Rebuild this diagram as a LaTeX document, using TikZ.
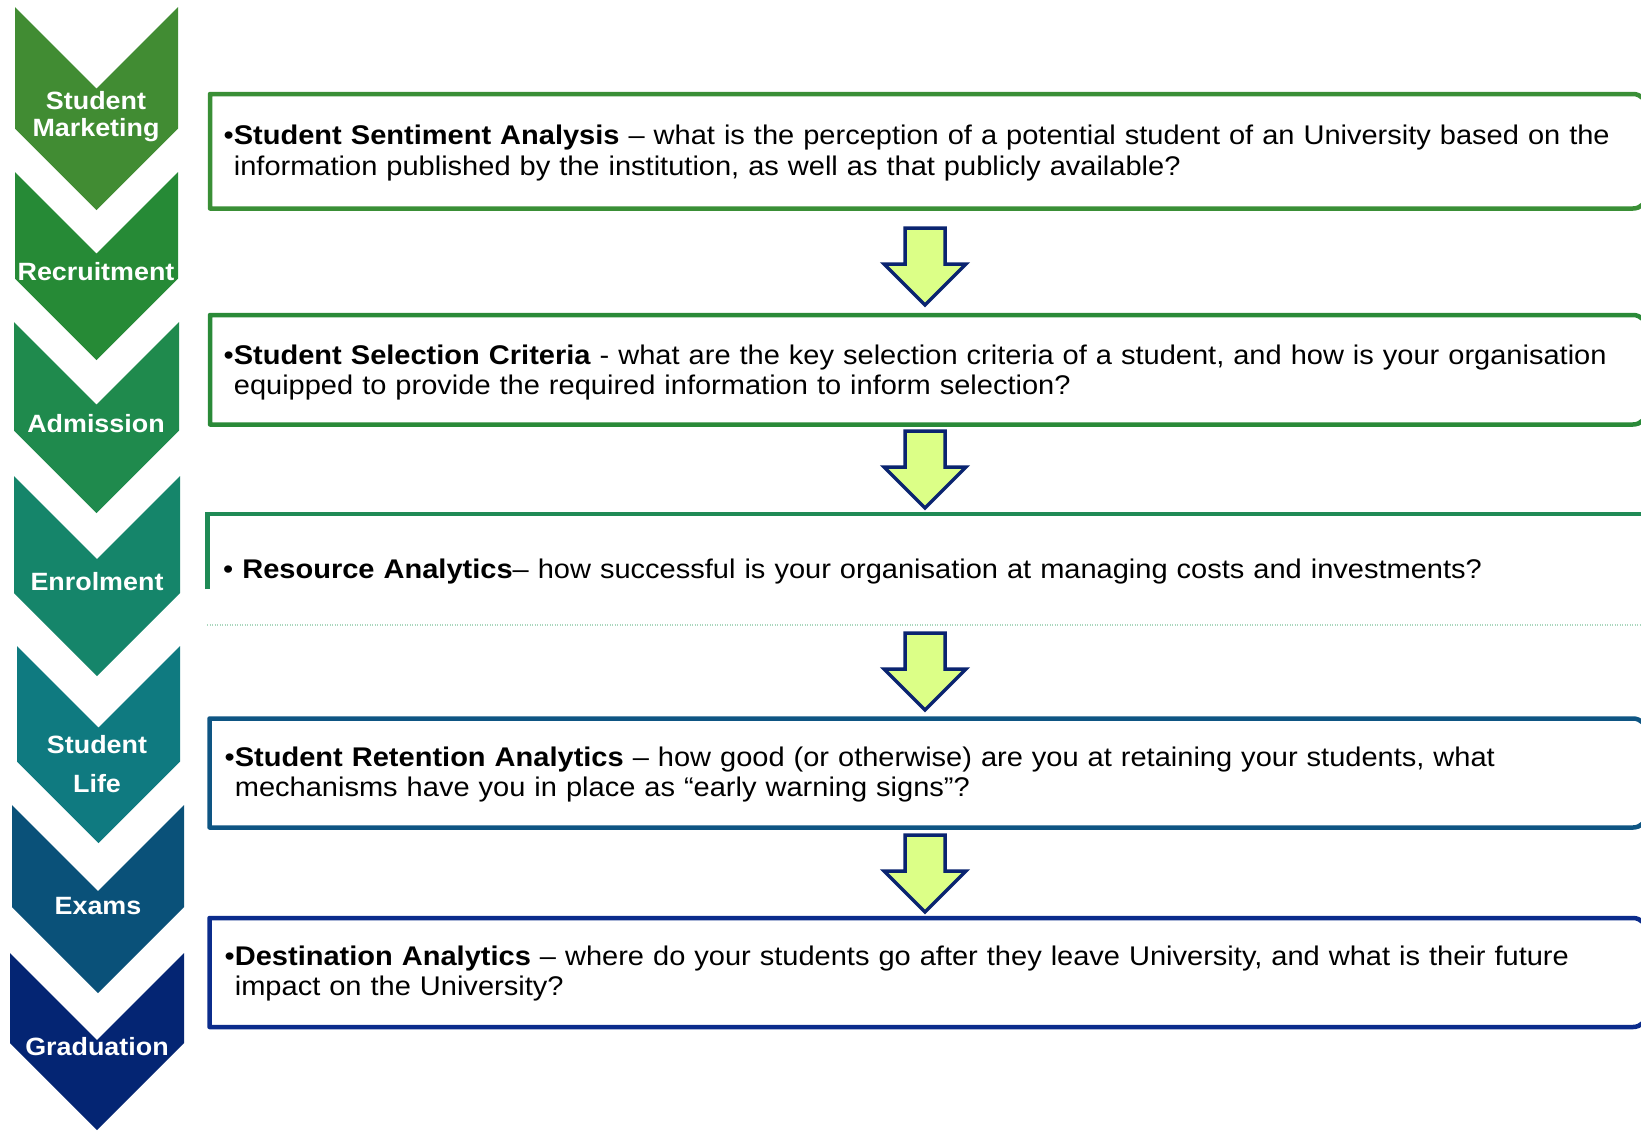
\documentclass[tikz,border=0pt]{standalone}
\usepackage{fontspec}
\setmainfont{Liberation Sans}[FakeStretch=1.075]

% stage colours, from green to navy
\definecolor{stageA}{RGB}{65,140,51}
\definecolor{stageB}{RGB}{38,138,54}
\definecolor{stageC}{RGB}{31,138,77}
\definecolor{stageD}{RGB}{21,133,106}
\definecolor{stageE}{RGB}{15,122,128}
\definecolor{stageF}{RGB}{10,81,121}
\definecolor{stageG}{RGB}{4,37,115}
% box borders
\definecolor{frameA}{RGB}{58,143,54}
\definecolor{frameB}{RGB}{42,138,56}
\definecolor{frameC}{RGB}{31,138,85}
\definecolor{frameD}{RGB}{14,85,131}
\definecolor{frameE}{RGB}{11,44,140}
\definecolor{dotgreen}{RGB}{170,215,190}
% block arrows
\definecolor{arrowline}{RGB}{10,36,112}
\definecolor{arrowfill}{RGB}{220,255,135}

% chevron: left x, right x, top y, tip y, colour
\newcommand\stagechevron[5]{%
  \pgfmathsetmacro\chevmid{(#1+#2)/2}%
  \pgfmathsetmacro\chevhalf{(#2-#1)/2}%
  \fill[#5] (#1,#3) -- (\chevmid,#3+\chevhalf) -- (#2,#3) -- (#2,#4-\chevhalf)
            -- (\chevmid,#4) -- (#1,#4-\chevhalf) -- cycle;}

% box open to the right edge: top y, bottom y, left x, colour
\newcommand\openbox[4]{%
  \draw[framed,draw=#4] (#3,#1) -- (1633,#1) arc[start angle=-90,end angle=0,radius=14]
        -- (1647,#2-14) arc[start angle=0,end angle=90,radius=14] -- (#3,#2) -- cycle;}

% downward block arrow: top y
\newcommand\blockarrow[1]{%
  \draw[arrowshape] (905,#1) -- (945,#1) -- (945,#1+36) -- (966,#1+36) -- (925,#1+77)
        -- (884,#1+36) -- (905,#1+36) -- cycle;}

\begin{document}
\begin{tikzpicture}[x=1pt,y=-1pt,
  chevlabel/.style={text=white,align=center,inner sep=0pt,
    font=\fontsize{25}{27}\selectfont\bfseries},
  framed/.style={line width=4.5pt,line join=round},
  arrowshape/.style={draw=arrowline,fill=arrowfill,line width=3.5pt,line join=miter},
  infotext/.style={anchor=base west,inner sep=0pt,text width=1500pt,align=left,
    font=\fontsize{27}{30.5}\selectfont,text=black},
]
\useasboundingbox (0,0) rectangle (1641,1130);
\clip (0,0) rectangle (1641,1130);
\fill[white] (0,0) rectangle (1641,1130);

% stage chevrons
\stagechevron{15}{178}{7}{210}{stageA}
\stagechevron{15}{178}{172}{360}{stageB}
\stagechevron{14}{179}{322}{513}{stageC}
\stagechevron{14}{180}{476}{676}{stageD}
\stagechevron{17}{180}{646}{843}{stageE}
\stagechevron{12}{184}{805}{993}{stageF}
\stagechevron{10}{184}{953}{1130}{stageG}

\node[chevlabel] (marketing) at (96,117) {Student\\Marketing};
\node[chevlabel] (recruitment) at (96,272) {Recruitment};
\node[chevlabel] (admission) at (96,424) {Admission};
\node[chevlabel] (enrolment) at (97,582) {Enrolment};
\node[chevlabel] (studentlife) at (97,764) {Student\\[12pt]Life};
\node[chevlabel] (exams) at (98,906) {Exams};
\node[chevlabel] (graduation) at (97,1047) {Graduation};

% boxes
\openbox{94}{208.5}{210}{frameA}
\openbox{315}{424.5}{210}{frameB}
\draw[framed,draw=frameC,line join=miter] (207.5,589) -- (207.5,514) -- (1660,514);
\draw[dotgreen,line width=1.6pt,dash pattern=on 1.2pt off 1.3pt] (207,625) -- (1641,625);
\openbox{718.5}{827.5}{209.5}{frameD}
\openbox{918}{1027}{209.5}{frameE}

% arrows between boxes
\blockarrow{228}
\blockarrow{431}
\blockarrow{633}
\blockarrow{835}

% box texts
\node[infotext] (sentiment) at (223.5,144.5)
  {\textbullet\textbf{Student Sentiment Analysis} – what is the perception of a potential student of an University based on the\\
   \phantom{\textbullet}information published by the institution, as well as that publicly available?};
\node[infotext] (selection) at (223.5,364)
  {\textbullet\textbf{Student Selection Criteria} - what are the key selection criteria of a student, and how is your organisation\\
   \phantom{\textbullet}equipped to provide the required information to inform selection?};
\node[infotext] (resource) at (223,578)
  {\textbullet\ \textbf{Resource Analytics}– how successful is your organisation at managing costs and investments?};
\node[infotext] (retention) at (224.5,766)
  {\textbullet\textbf{Student Retention Analytics} – how good (or otherwise) are you at retaining your students, what\\
   \phantom{\textbullet}mechanisms have you in place as “early warning signs”?};
\node[infotext] (destination) at (224.5,965)
  {\textbullet\textbf{Destination Analytics} – where do your students go after they leave University, and what is their future\\
   \phantom{\textbullet}impact on the University?};
\end{tikzpicture}
\end{document}
